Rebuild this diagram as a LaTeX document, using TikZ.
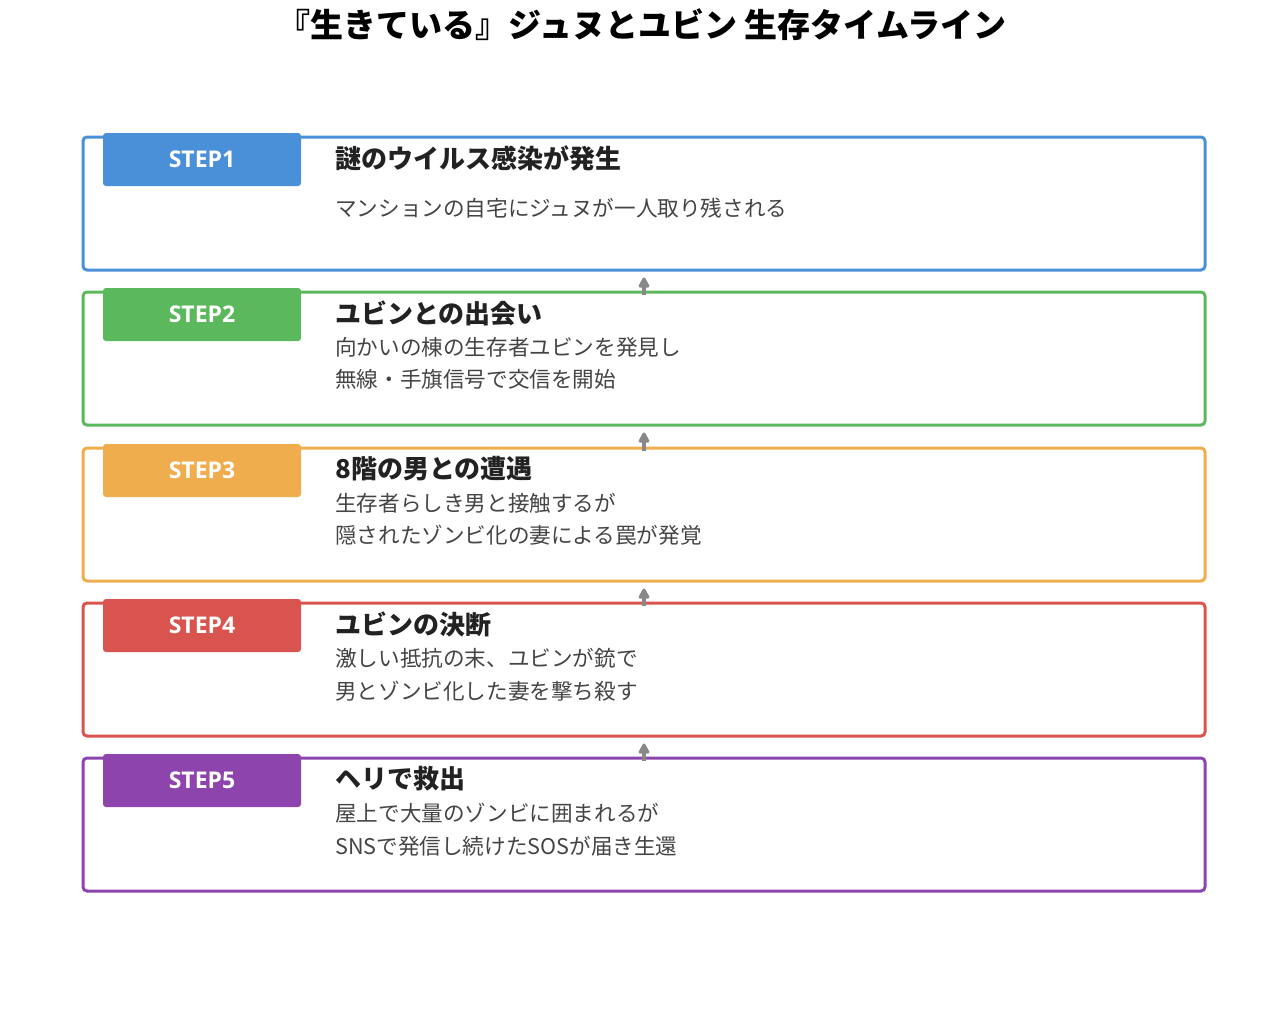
\documentclass[tikz,border=0pt]{standalone}
\usepackage{fontspec}
\setmainfont{Noto Sans CJK JP}
\newfontfamily\stepfont{Open Sans}
\usetikzlibrary{arrows.meta}
\definecolor{stepblue}{HTML}{4A90D9}
\definecolor{stepgreen}{HTML}{5CB85C}
\definecolor{steporange}{HTML}{F0AD4E}
\definecolor{stepred}{HTML}{D9534F}
\definecolor{steppurple}{HTML}{8E44AD}
\definecolor{headgray}{HTML}{222222}
\definecolor{bodygray}{HTML}{444444}
\definecolor{flowgray}{HTML}{888888}
\tikzset{
  stepbox/.style={draw, line width=3pt, rounded corners=4pt, minimum width=1122pt, minimum height=133pt, inner sep=0pt},
  steptag/.style={rounded corners=3pt, minimum width=198pt, minimum height=53pt, inner sep=0pt, text=white, font=\stepfont\bfseries\fontsize{23}{26}\selectfont},
  stephead/.style={anchor=west, inner sep=0pt, text=headgray, font=\bfseries\fontsize{26}{30}\selectfont},
  stepbody/.style={anchor=west, align=left, inner sep=0pt, text=bodygray, font=\fontsize{21.6}{32.5}\selectfont},
  flow/.style={draw=flowgray, line width=3.5pt, -{Triangle[length=12pt,width=12pt,round]}}
}
\begin{document}
\begin{tikzpicture}[x=1pt,y=-1pt]
  \useasboundingbox (0,0) rectangle (1287,1026);
  % Title
  \node[font=\bfseries\fontsize{33}{38}\selectfont, text=black] (title) at (642,25) {『生きている』ジュヌとユビン 生存タイムライン};
  % Draw the step boxes
  \foreach \i/\top/\col/\head/\body in {
    1/137/stepblue/{謎のウイルス感染が発生}/{マンションの自宅にジュヌが一人取り残される},
    2/292/stepgreen/{ユビンとの出会い}/{向かいの棟の生存者ユビンを発見し\\無線・手旗信号で交信を開始},
    3/448/steporange/{8階の男との遭遇}/{生存者らしき男と接触するが\\隠されたゾンビ化の妻による罠が発覚},
    4/603/stepred/{ユビンの決断}/{激しい抵抗の末、ユビンが銃で\\男とゾンビ化した妻を撃ち殺す},
    5/758/steppurple/{ヘリで救出}/{屋上で大量のゾンビに囲まれるが\\SNSで発信し続けたSOSが届き生還}}
  {
    \node[stepbox, draw=\col] (box\i) at (644,\top+66.5) {};
    \node[steptag, fill=\col] (tag\i) at (202,\top+22.5) {STEP\i};
    \node[stephead] (head\i) at (335,\top+21) {\head};
    \node[stepbody] (body\i) at (335,\top+71.5) {\body};
  }
  % Arrows between the steps
  \foreach \i [evaluate=\i as \j using int(\i+1)] in {1,2,3,4}
    \draw[flow] ([yshift=-4pt]box\j.north) -- ([yshift=-6pt]box\i.south);
\end{tikzpicture}
\end{document}
